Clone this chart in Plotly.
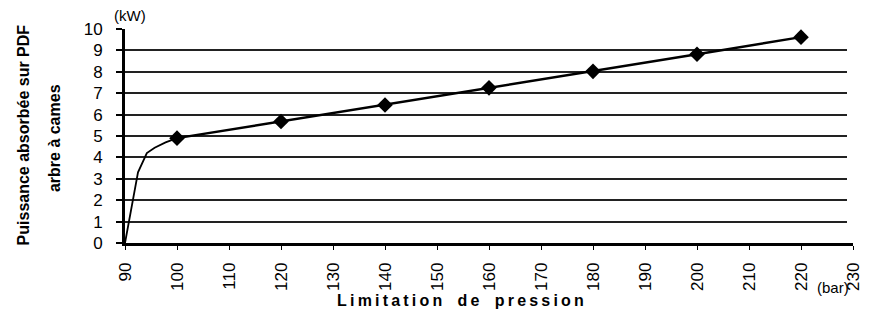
import plotly.graph_objects as go

# Data
curve_x = [90, 92.5, 94.2, 95.7, 97.8, 100]
curve_y = [0, 3.3, 4.2, 4.45, 4.7, 4.9]
points_x = [100, 120, 140, 160, 180, 200, 220]
points_y = [4.9, 5.68, 6.45, 7.25, 8.02, 8.82, 9.62]
x_ticks = list(range(90, 231, 10))
y_ticks = list(range(0, 11))
grid_vals = list(range(1, 10))

FONT = "Liberation Sans, Arial, sans-serif"
TS = "\u2009"

fig = go.Figure()
# grid-only subplot (x, y)
fig.add_trace(go.Scatter(x=[90], y=[0], xaxis="x", yaxis="y", mode="markers",
                         marker=dict(opacity=0), showlegend=False, hoverinfo="skip"))
# data on (x2, y2)
fig.add_trace(go.Scatter(x=curve_x, y=curve_y, xaxis="x2", yaxis="y2", mode="lines",
                         line=dict(color="black", width=1.8), showlegend=False))
fig.add_trace(go.Scatter(x=points_x, y=points_y, xaxis="x2", yaxis="y2",
                         mode="lines+markers",
                         line=dict(color="black", width=2.5),
                         marker=dict(symbol="diamond", size=12, color="black"),
                         showlegend=False))

title_txt = "<b>" + TS.join("Limitation de pression").replace(" ", "  ") + "</b>"

fig.update_layout(
    width=867, height=307,
    margin=dict(l=117, r=12, t=15, b=72),
    paper_bgcolor="white", plot_bgcolor="rgba(0,0,0,0)",
    font=dict(family=FONT, color="black"),
    xaxis=dict(domain=[0, 0.992], range=[90, 230], visible=False, anchor="y"),
    yaxis=dict(range=[0, 10], tickvals=grid_vals, showticklabels=False, ticks="",
               showgrid=True, gridcolor="#222", gridwidth=1.5, zeroline=False,
               showline=False, anchor="x"),
    xaxis2=dict(domain=[0, 1], range=[90, 230], anchor="y2",
                tickvals=x_ticks, ticktext=[str(v) for v in x_ticks],
                tickangle=-90, tickfont=dict(size=17), showgrid=False, zeroline=False,
                showline=True, linecolor="black", linewidth=2.5,
                ticks="outside", ticklen=4, tickwidth=1.2, tickcolor="black",
                ticklabelstandoff=6),
    yaxis2=dict(domain=[0, 1], range=[0, 10], anchor="x2", tickvals=y_ticks,
                tickfont=dict(size=17), showgrid=False,
                zeroline=False, showline=True, linecolor="black", linewidth=3,
                ticks="outside", ticklen=6, tickwidth=1.5, tickcolor="black",
                ticklabelstandoff=10),
    annotations=[
        dict(text=title_txt, xref="paper", yref="paper",
             x=0.4607, y=-0.268, showarrow=False, font=dict(size=16),
             xanchor="center", yanchor="middle"),
        dict(text="<b>Puissance absorbée sur PDF</b>", xref="paper", yref="paper",
             x=-0.1396, y=0.5045, textangle=-90, showarrow=False,
             font=dict(size=16), xanchor="center", yanchor="middle"),
        dict(text="<b>arbre à cames</b>", xref="paper", yref="paper",
             x=-0.0976, y=0.49, textangle=-90, showarrow=False,
             font=dict(size=16), xanchor="center", yanchor="middle"),
        dict(text="(kW)", xref="paper", yref="paper", x=0.0068, y=1.065, showarrow=False,
             font=dict(size=15), xanchor="center", yanchor="middle"),
        dict(text="(bar)", xref="paper", yref="paper", x=0.972, y=-0.209, showarrow=False,
             font=dict(size=15), xanchor="center", yanchor="middle"),
    ],
)

fig.write_html("out.html")
